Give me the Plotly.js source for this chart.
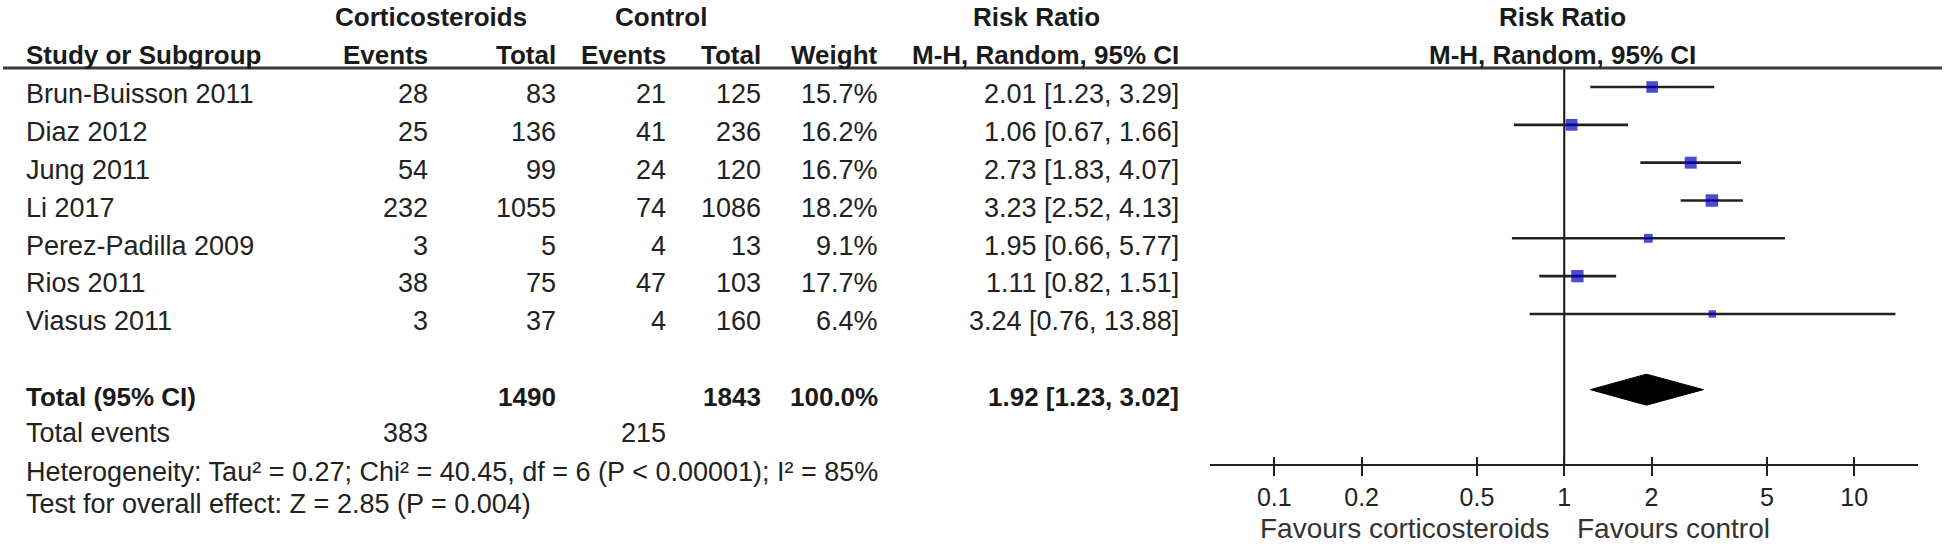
<!DOCTYPE html>
<html>
<head>
<meta charset="utf-8">
<script src="https://cdn.plot.ly/plotly-3.0.1.min.js"></script>
<style>html,body{margin:0;padding:0;background:#fff;}#chart{width:1946px;height:544px;}</style>
</head>
<body>
<div id="chart"></div>
<script>
// ---------------- data ----------------
const studies = ['Brun-Buisson 2011', 'Diaz 2012', 'Jung 2011', 'Li 2017', 'Perez-Padilla 2009', 'Rios 2011', 'Viasus 2011'];
const cortEvents = [28, 25, 54, 232, 3, 38, 3];
const cortTotal = [83, 136, 99, 1055, 5, 75, 37];
const ctrlEvents = [21, 41, 24, 74, 4, 47, 4];
const ctrlTotal = [125, 236, 120, 1086, 13, 103, 160];
const weights = [15.7, 16.2, 16.7, 18.2, 9.1, 17.7, 6.4];
const rrEst = [2.01, 1.06, 2.73, 3.23, 1.95, 1.11, 3.24];
const rrLo = [1.23, 0.67, 1.83, 2.52, 0.66, 0.82, 0.76];
const rrHi = [3.29, 1.66, 4.07, 4.13, 5.77, 1.51, 13.88];

const totalLabel = 'Total (95% CI)';
const totalCortN = 1490;
const totalCtrlN = 1843;
const totalWeight = 100.0;
const totalEst = 1.92;
const totalLo = 1.23;
const totalHi = 3.02;
const totalEventsLabel = 'Total events';
const totalCortEvents = 383;
const totalCtrlEvents = 215;
const heterogeneityText = 'Heterogeneity: Tau² = 0.27; Chi² = 40.45, df = 6 (P &lt; 0.00001); I² = 85%';
const overallText = 'Test for overall effect: Z = 2.85 (P = 0.004)';

const tickVals = [0.1, 0.2, 0.5, 1, 2, 5, 10];
const tickText = ['0.1', '0.2', '0.5', '1', '2', '5', '10'];
const favoursLeft = 'Favours corticosteroids';
const favoursRight = 'Favours control';

const groupHeaders = ['Corticosteroids', 'Control', 'Risk Ratio', 'Risk Ratio'];
const colHeaders = ['Study or Subgroup', 'Events', 'Total', 'Events', 'Total', 'Weight', 'M-H, Random, 95% CI', 'M-H, Random, 95% CI'];

// ---------------- layout helpers ----------------
const W = 1946, H = 544;
const ROW0 = 87, ROWH = 37.83;          // pixel of first study row, row spacing
const pxRow = p => (p - ROW0) / ROWH;   // pixel -> row units
const px = x => x / W;                  // pixel -> paper x
const FONT = 'Liberation Sans, Arial, sans-serif';
const TXT = '#222';
const regFont = {family: FONT, size: 27, color: TXT};
const boldFont = {family: FONT, size: 26, color: '#1a1a1a', weight: 'bold'};

const rows = studies.map((_, i) => i);
const totalRow = studies.length + 1;
const fmt2 = v => v.toFixed(2);
const ciText = (e, l, h) => fmt2(e) + ' [' + fmt2(l) + ', ' + fmt2(h) + ']';

const colRight = {cortE: 429, cortT: 557, ctrlE: 667, ctrlT: 762, weight: 879, rr: 1180};
const nameLeft = 25;
const plotCenter = 1562;

const ann = [];
function addText(text, xPix, row, anchor, font) {
  ann.push({text: text, x: px(xPix), xref: 'paper', y: row, yref: 'y',
            xanchor: anchor, yanchor: 'middle', showarrow: false, font: font,
            borderpad: 0});
}
function b(t) { return '<b>' + t + '</b>'; }

// headers
const h1 = pxRow(17), h2 = pxRow(55);
addText(b(groupHeaders[0]), 431, h1, 'center', boldFont);
addText(b(groupHeaders[1]), 661, h1, 'center', boldFont);
addText(b(groupHeaders[2]), 1036, h1, 'center', boldFont);
addText(b(groupHeaders[3]), plotCenter, h1, 'center', boldFont);
addText(b(colHeaders[0]), nameLeft, h2, 'left', boldFont);
addText(b(colHeaders[1]), colRight.cortE, h2, 'right', boldFont);
addText(b(colHeaders[2]), colRight.cortT, h2, 'right', boldFont);
addText(b(colHeaders[3]), colRight.ctrlE, h2, 'right', boldFont);
addText(b(colHeaders[4]), colRight.ctrlT, h2, 'right', boldFont);
addText(b(colHeaders[5]), colRight.weight, h2, 'right', boldFont);
addText(b(colHeaders[6]), colRight.rr, h2, 'right', boldFont);
addText(b(colHeaders[7]), plotCenter, h2, 'center', boldFont);

// study rows
const TOFF = 0.19;
studies.forEach((s, i) => {
  const y = rows[i] + TOFF;
  addText(s, nameLeft, y, 'left', regFont);
  addText(String(cortEvents[i]), colRight.cortE, y, 'right', regFont);
  addText(String(cortTotal[i]), colRight.cortT, y, 'right', regFont);
  addText(String(ctrlEvents[i]), colRight.ctrlE, y, 'right', regFont);
  addText(String(ctrlTotal[i]), colRight.ctrlT, y, 'right', regFont);
  addText(weights[i].toFixed(1) + '%', colRight.weight, y, 'right', regFont);
  addText(ciText(rrEst[i], rrLo[i], rrHi[i]), colRight.rr, y, 'right', regFont);
});

// total row
const ty = totalRow + TOFF;
addText(b(totalLabel), nameLeft, ty, 'left', boldFont);
addText(b(String(totalCortN)), colRight.cortT, ty, 'right', boldFont);
addText(b(String(totalCtrlN)), colRight.ctrlT, ty, 'right', boldFont);
addText(b(totalWeight.toFixed(1) + '%'), colRight.weight, ty, 'right', boldFont);
addText(b(ciText(totalEst, totalLo, totalHi)), colRight.rr, ty, 'right', boldFont);

// footer rows
const te = pxRow(433);
addText(totalEventsLabel, nameLeft, te, 'left', regFont);
addText(String(totalCortEvents), colRight.cortE, te, 'right', regFont);
addText(String(totalCtrlEvents), colRight.ctrlE, te, 'right', regFont);
addText(heterogeneityText, nameLeft, pxRow(472), 'left', regFont);
addText(overallText, nameLeft, pxRow(504), 'left', regFont);

// favours labels
const favFont = {family: FONT, size: 28, color: '#333'};
addText(favoursLeft, 1550, pxRow(528), 'right', favFont);
addText(favoursRight, 1576, pxRow(528), 'left', favFont);

// ---------------- traces ----------------
const ciX = [], ciY = [];
rows.forEach((r, i) => { ciX.push(rrLo[i], rrHi[i], null); ciY.push(r, r, null); });

const ciTrace = {type: 'scatter', mode: 'lines', x: ciX, y: ciY, connectgaps: false,
  line: {color: '#222', width: 2.6}, hoverinfo: 'skip', cliponaxis: false};

const sqTrace = {type: 'scatter', mode: 'markers', x: rrEst, y: rows,
  marker: {symbol: 'square', size: weights.map(w => 2.93 * Math.sqrt(w)), color: '#0000C0',
           line: {width: 0}}, hoverinfo: 'skip', cliponaxis: false};

const dH = 0.41;
const diamondTrace = {type: 'scatter', mode: 'lines',
  x: [totalLo, totalEst, totalHi, totalEst, totalLo],
  y: [totalRow, totalRow - dH, totalRow, totalRow + dH, totalRow],
  fill: 'toself', fillcolor: '#000', line: {color: '#000', width: 1}, hoverinfo: 'skip'};

// invisible trace so the upper tick axis (x2/y2) is drawn
const dummyTrace = {type: 'scatter', mode: 'markers', x: [1], y: [0], xaxis: 'x2', yaxis: 'y2',
  marker: {opacity: 0}, hoverinfo: 'skip'};

// ---------------- layout ----------------
const axisY = 465;
const axPos = (H - axisY) / H;
const xDom = [px(1210), px(1918)];
const logRange = [Math.log10(0.06), Math.log10(16.6)];

const layout = {
  width: W, height: H,
  margin: {l: 0, r: 0, t: 0, b: 0, pad: 0},
  paper_bgcolor: '#fff', plot_bgcolor: 'rgba(0,0,0,0)',
  showlegend: false,
  font: {family: FONT, color: TXT},
  xaxis: {type: 'log', range: logRange, domain: xDom, anchor: 'free', position: axPos,
          tickmode: 'array', tickvals: tickVals, ticktext: tickText,
          ticks: 'outside', ticklen: 10, tickwidth: 2, tickcolor: '#222',
          showline: true, linecolor: '#222', linewidth: 2,
          showgrid: false, zeroline: false,
          tickfont: {family: FONT, size: 25, color: '#222'}, fixedrange: true},
  xaxis2: {type: 'log', range: logRange, domain: xDom, anchor: 'y2',
           tickmode: 'array', tickvals: tickVals, ticks: 'inside', ticklen: 8, tickwidth: 2,
           tickcolor: '#222', showticklabels: false, showline: false, showgrid: false,
           zeroline: false, fixedrange: true},
  yaxis: {range: [pxRow(H), pxRow(0)], domain: [0, 1], visible: false, fixedrange: true},
  yaxis2: {range: [0, 1], domain: [axPos, 1], anchor: 'x2', visible: false, fixedrange: true},
  shapes: [
    {type: 'line', xref: 'paper', yref: 'y', x0: px(3), x1: px(1942), y0: pxRow(68), y1: pxRow(68),
     line: {color: '#3a3a3a', width: 3}},
    {type: 'line', xref: 'x', yref: 'y', x0: 1, x1: 1, y0: pxRow(68), y1: pxRow(axisY),
     line: {color: '#111', width: 2}, layer: 'below'}
  ],
  annotations: ann
};

Plotly.newPlot('chart', [ciTrace, diamondTrace, sqTrace, dummyTrace], layout,
  {displayModeBar: false, staticPlot: true});
</script>
</body>
</html>
